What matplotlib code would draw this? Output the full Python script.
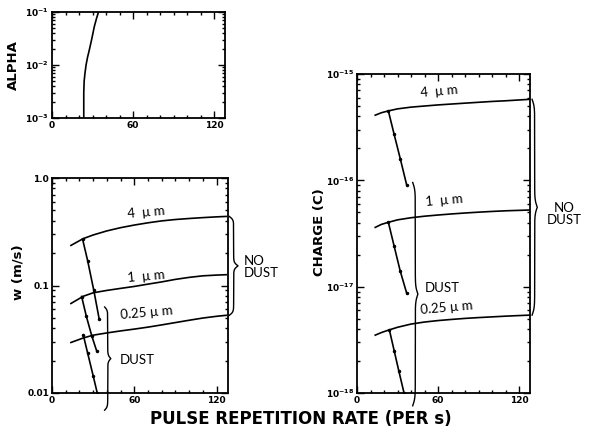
import numpy as np
import matplotlib
matplotlib.use("Agg")
import matplotlib.pyplot as plt
from matplotlib.ticker import FixedLocator, FixedFormatter, LogLocator, MultipleLocator, NullFormatter

# ---------------- data ----------------
rate_ticks = [0, 60, 120]

# ALPHA panel
alpha_x = [23.5, 23.5, 23.8, 24.4, 25.2, 26.3, 27.6, 29.3, 31.3, 32.9, 34.4]
alpha_y = [0.001, 0.003, 0.005, 0.007, 0.010, 0.014, 0.0192, 0.030, 0.053, 0.075, 0.1]

# w panel (no dust curves)
w_x = [13.8, 22.8, 30, 40, 50, 60, 70, 80, 90, 100, 110, 120, 127]
w_4um = [0.236, 0.273, 0.295, 0.322, 0.345, 0.365, 0.383, 0.399, 0.411, 0.420, 0.428, 0.435, 0.439]
w_1um = [0.068, 0.0794, 0.0855, 0.090, 0.094, 0.098, 0.103, 0.108, 0.114, 0.119, 0.123, 0.125, 0.126]
w_025um = [0.0295, 0.0325, 0.0345, 0.0362, 0.0378, 0.0393, 0.0410, 0.0430, 0.0452, 0.0475, 0.0498, 0.0517, 0.0528]
# w panel (dust lines)
wd4_x = [22.3, 26.0, 30.5, 34.4]
wd4_y = [0.270, 0.170, 0.090, 0.0489]
wd1_x = [21.6, 25.0, 29.0, 32.5]
wd1_y = [0.079, 0.052, 0.034, 0.0248]
wd025_x = [22.8, 26.0, 30.0, 33.0]
wd025_y = [0.0347, 0.0235, 0.0145, 0.010]

# charge panel (no dust curves)
q_x = [13.5, 18, 23.2, 30, 40, 50, 60, 70, 80, 90, 100, 110, 120, 128]
q_4um = [4.1e-16, 4.32e-16, 4.5e-16, 4.7e-16, 4.88e-16, 5.0e-16, 5.12e-16, 5.22e-16,
         5.32e-16, 5.42e-16, 5.52e-16, 5.6e-16, 5.7e-16, 5.78e-16]
q_1um = [3.61e-17, 3.85e-17, 4.03e-17, 4.25e-17, 4.45e-17, 4.6e-17, 4.72e-17, 4.83e-17,
         4.93e-17, 5.02e-17, 5.1e-17, 5.17e-17, 5.22e-17, 5.26e-17]
q_025um = [3.5e-18, 3.7e-18, 3.9e-18, 4.15e-18, 4.45e-18, 4.65e-18, 4.8e-18, 4.92e-18,
           5.03e-18, 5.12e-18, 5.2e-18, 5.28e-18, 5.35e-18, 5.4e-18]
# charge panel (dust lines)
qd4_x = [23.2, 27.5, 32.0, 36.8]
qd4_y = [4.5e-16, 2.7e-16, 1.6e-16, 9.0e-17]
qd1_x = [23.2, 27.5, 32.0, 36.8]
qd1_y = [4.03e-17, 2.4e-17, 1.4e-17, 8.65e-18]
qd025_x = [24.0, 27.5, 31.0, 34.8]
qd025_y = [3.9e-18, 2.5e-18, 1.6e-18, 1.0e-18]

size_labels = ["4  \u00b5 m", "1  \u00b5 m", "0.25 \u00b5 m"]

# ---------------- figure ----------------
W, H = 594, 434
fig = plt.figure(figsize=(W / 100, H / 100), dpi=100)
fig.patch.set_facecolor("white")

def frac(px, py, pw, ph):
    return [px / W, 1 - (py + ph) / H, pw / W, ph / H]

ax_a = fig.add_axes(frac(52, 12, 173, 106))
ax_w = fig.add_axes(frac(52, 178, 175.5, 215))
ax_q = fig.add_axes(frac(357, 74, 173, 319))

LW = 1.2

def style(ax, ylim, yticks, ylabels):
    ax.set_xlim(0, 128)
    ax.set_yscale("log")
    ax.set_ylim(*ylim)
    ax.xaxis.set_major_locator(FixedLocator(rate_ticks))
    ax.xaxis.set_major_formatter(FixedFormatter([str(t) for t in rate_ticks]))
    ax.xaxis.set_minor_locator(MultipleLocator(10))
    ax.yaxis.set_major_locator(FixedLocator(yticks))
    ax.yaxis.set_major_formatter(FixedFormatter(ylabels))
    ax.yaxis.set_minor_locator(LogLocator(base=10, subs=np.arange(2, 10)))
    ax.yaxis.set_minor_formatter(NullFormatter())
    ax.tick_params(which="both", direction="in", left=True, right=True,
                   top=True, bottom=True, width=1.0)
    ax.tick_params(which="major", length=5, pad=2, labelsize=6.5)
    ax.tick_params(which="minor", length=2)
    for lab in ax.get_xticklabels() + ax.get_yticklabels():
        lab.set_fontweight("bold")
    for s in ax.spines.values():
        s.set_linewidth(1.3)

style(ax_a, (1e-3, 1e-1), [1e-3, 1e-2, 1e-1],
      [r"$\mathbf{10^{-3}}$", r"$\mathbf{10^{-2}}$", r"$\mathbf{10^{-1}}$"])
style(ax_w, (0.01, 1.0), [0.01, 0.1, 1.0], ["0.01", "0.1", "1.0"])
style(ax_q, (1e-18, 1e-15), [1e-18, 1e-17, 1e-16, 1e-15],
      [r"$\mathbf{10^{-18}}$", r"$\mathbf{10^{-17}}$", r"$\mathbf{10^{-16}}$", r"$\mathbf{10^{-15}}$"])

# curves
ax_a.plot(alpha_x, alpha_y, color="black", lw=LW)

for ys in [w_4um, w_1um, w_025um]:
    ax_w.plot(w_x, ys, color="black", lw=LW)
for xs, ys in [(wd4_x, wd4_y), (wd1_x, wd1_y), (wd025_x, wd025_y)]:
    ax_w.plot(xs, ys, color="black", lw=LW, marker=".", markersize=3)

for ys in [q_4um, q_1um, q_025um]:
    ax_q.plot(q_x, ys, color="black", lw=LW)
for xs, ys in [(qd4_x, qd4_y), (qd1_x, qd1_y), (qd025_x, qd025_y)]:
    ax_q.plot(xs, ys, color="black", lw=LW, marker=".", markersize=3)

# labels
lab_font = dict(fontsize=9.5, family="Lato", color="black")
for ax, xs, ys in [(ax_w, [55, 55, 49.5], [0.48, 0.121, 0.056]),
                   (ax_q, [46.6, 50, 46.6], [6.8e-16, 6.5e-17, 6.3e-18])]:
    for lbl, x, y in zip(size_labels, xs, ys):
        ax.text(x, y, lbl, rotation=5, ha="left", va="center", **lab_font)

# curly braces (axes-fraction coordinates)
def vbrace(ax, x0, x1, yf0, yf1, m=150, beta=60):
    t = np.linspace(0, 1, 2 * m - 1)
    half = t[:m]
    h = 1 / (1 + np.exp(-beta * (half - half[0]))) + 1 / (1 + np.exp(-beta * (half - half[-1])))
    h = (h - h.min()) / (h.max() - h.min())
    full = np.concatenate([h, h[-2::-1]])
    xs = x0 + (x1 - x0) * full
    ys = yf0 + (yf1 - yf0) * t
    ax.plot(xs, ys, color="black", lw=1.0, transform=ax.transAxes, clip_on=False)

def yfrac(v, lo, hi):
    return (np.log10(v) - np.log10(lo)) / (np.log10(hi) - np.log10(lo))

vbrace(ax_w, 1.01, 1.06, yfrac(w_025um[-1], 0.01, 1.0), yfrac(w_4um[-1], 0.01, 1.0))
vbrace(ax_w, 0.30, 0.335, -0.08, 0.40)
vbrace(ax_q, 1.012, 1.042, yfrac(q_025um[-1], 1e-18, 1e-15), yfrac(q_4um[-1], 1e-18, 1e-15))
vbrace(ax_q, 0.322, 0.352, -0.04, 0.66)

ax_w.text(1.09, yfrac(0.15, 0.01, 1.0), "NO\nDUST", transform=ax_w.transAxes,
          ha="left", va="center", linespacing=1.0, **lab_font)
ax_w.text(0.385, 0.155, "DUST", transform=ax_w.transAxes,
          ha="left", va="center", **lab_font)
ax_q.text(1.20, 0.56, "NO\nDUST", transform=ax_q.transAxes,
          ha="center", va="center", linespacing=1.0, **lab_font)
ax_q.text(0.39, 0.33, "DUST", transform=ax_q.transAxes,
          ha="left", va="center", **lab_font)

# axis labels
ylab_font = dict(fontsize=9.5, fontweight="bold")
ax_a.set_ylabel("ALPHA", **ylab_font)
ax_a.yaxis.set_label_coords(-0.185, 0.5)
ax_w.set_ylabel("w (m/s)", **ylab_font)
ax_w.yaxis.set_label_coords(-0.154, 0.56)
ax_q.set_ylabel("CHARGE (C)", **ylab_font)
ax_q.yaxis.set_label_coords(-0.179, 0.505)

fig.text(301 / W, 1 - 419 / H, "PULSE REPETITION RATE (PER s)", ha="center", va="center",
         fontsize=12, fontweight="bold", family="DejaVu Sans")

fig.savefig("out.png", dpi=100, facecolor="white")
